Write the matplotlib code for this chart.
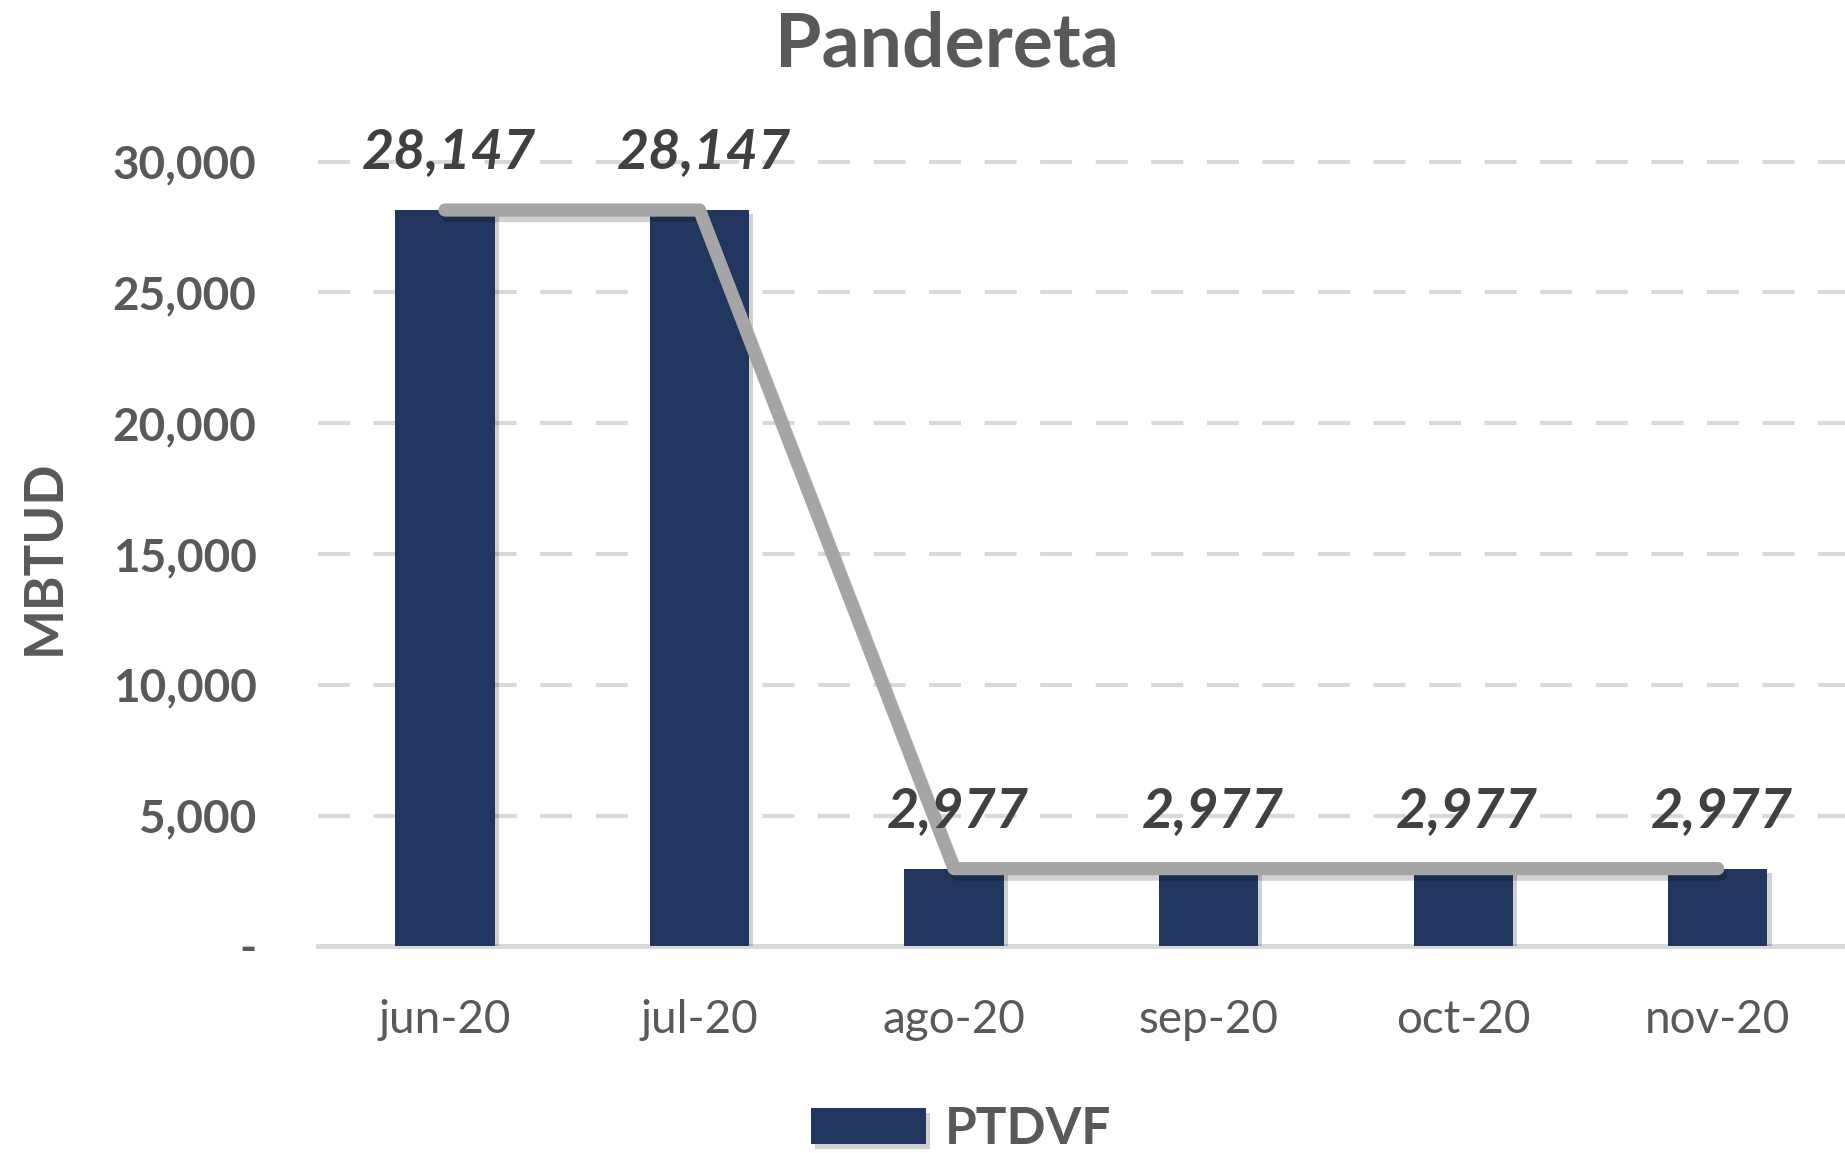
import matplotlib
matplotlib.use("Agg")
import matplotlib.pyplot as plt
import matplotlib.patheffects as pe
from matplotlib.ticker import FuncFormatter, MultipleLocator

plt.rcParams['font.family'] = ['Lato', 'DejaVu Sans']
plt.rcParams['lines.scale_dashes'] = False

categories = ["jun-20", "jul-20", "ago-20", "sep-20", "oct-20", "nov-20"]
values = [28147, 28147, 2977, 2977, 2977, 2977]
series_name = "PTDVF"
title = "Pandereta"
ylabel = "MBTUD"

bar_color = "#21375F"
line_color = "#A5A5A5"
grid_color = "#D9D9D9"
text_grey = "#595959"
label_dark = "#404040"

fig = plt.figure(figsize=(18.45, 11.53), dpi=100)
ax = fig.add_axes([0.1722, 0.1791, 0.8278, 0.6944])

x = list(range(len(categories)))
bars = ax.bar(x, values, width=0.39, color=bar_color, label=series_name, zorder=2)
for b in bars:
    b.set_path_effects([pe.SimplePatchShadow(offset=(3, -3), shadow_rgbFace='black', alpha=0.18), pe.Normal()])

ax.plot(x, values, color=line_color, lw=9.5, solid_capstyle='round', solid_joinstyle='round', zorder=3,
        path_effects=[pe.SimpleLineShadow(offset=(2, -4), shadow_color='black', alpha=0.18), pe.Normal()])

for xi, v in zip(x, values):
    ax.annotate(f"{v:,}", (xi, v), xytext=(3, 30), textcoords='offset points', ha='center', va='baseline',
                fontsize=40, fontweight='bold', fontstyle='italic', color=label_dark, zorder=5)

ax.set_xlim(-0.5, len(categories) - 0.5)
ax.set_ylim(0, 30600)
ax.yaxis.set_major_locator(MultipleLocator(5000))
ax.yaxis.set_major_formatter(FuncFormatter(lambda v, p: "-" if v == 0 else f"{v:,.0f}"))
ax.set_xticks(x)
ax.set_xticklabels(categories)

ax.grid(axis='y', color=grid_color, lw=3, linestyle=(0, (23, 17)), zorder=0)
ax.set_axisbelow(True)
for s in ['top', 'right', 'left']:
    ax.spines[s].set_visible(False)
ax.spines['bottom'].set_color(grid_color)
ax.spines['bottom'].set_linewidth(3.5)
ax.spines['bottom'].set_zorder(1)

ax.tick_params(axis='y', length=0, pad=44, labelsize=33, labelcolor=text_grey)
ax.tick_params(axis='x', length=0, pad=38, labelsize=33, labelcolor=text_grey)
for t in ax.get_yticklabels():
    t.set_fontweight('bold')

fig.text(0.513, 0.961, title, ha='center', va='center', fontsize=54, fontweight='bold', color=text_grey)
fig.text(0.0238, 0.517, ylabel, ha='center', va='center', rotation=90, fontsize=38, fontweight='bold', color=text_grey)

fig.legend(handles=[bars], labels=[series_name], loc='center', bbox_to_anchor=(0.521, 0.02), frameon=False,
           prop={'size': 37, 'weight': 'bold'}, handlelength=2.23, handleheight=0.7, handletextpad=0.37,
           borderpad=0, labelcolor=text_grey)

fig.savefig("out.png", dpi=100, facecolor='white')
